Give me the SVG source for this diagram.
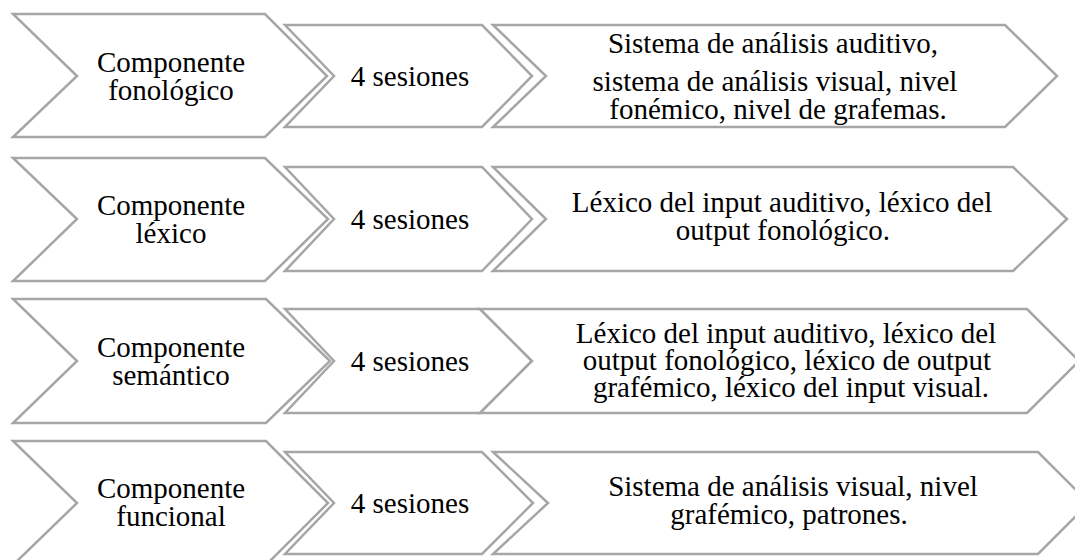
<svg xmlns="http://www.w3.org/2000/svg" width="1075" height="560" viewBox="0 0 1075 560">
<style>
.ch{fill:#ffffff;stroke:#a6a6a6;stroke-width:2.5;stroke-linejoin:miter}
.t{font-family:"Liberation Serif","Times New Roman",serif;font-size:29px;fill:#000;text-anchor:middle}
</style>
<rect width="1075" height="560" fill="#ffffff"/>
<g id="row1">
<g id="r1c1"><polygon class="ch" points="13,14 265,14 327,76 265,137 13,137 77,76"/>
<text class="t" x="171" y="72">Componente</text><text class="t" x="171" y="100">fonológico</text></g>
<g id="r1c2"><polygon class="ch" points="285,25 482,25 532,76 482,127 285,127 334,76"/>
<text class="t" x="410" y="86">4 sesiones</text></g>
<g id="r1c3"><polygon class="ch" points="493,25 1005,25 1057,76 1005,127 493,127 546,76"/>
<text class="t" x="773" y="53">Sistema de análisis auditivo,</text>
<text class="t" x="775" y="91">sistema de análisis visual, nivel</text>
<text class="t" x="778" y="119">fonémico, nivel de grafemas.</text></g>
</g>
<g id="row2">
<g id="r2c1"><polygon class="ch" points="13,158 265,158 328,219 265,281 13,281 77,219"/>
<text class="t" x="171" y="215">Componente</text><text class="t" x="171" y="243">léxico</text></g>
<g id="r2c2"><polygon class="ch" points="285,167 482,167 532,219 482,271 285,271 334,219"/>
<text class="t" x="410" y="229">4 sesiones</text></g>
<g id="r2c3"><polygon class="ch" points="493,167 1013,167 1067,219 1013,271 493,271 546,219"/>
<text class="t" x="782" y="212">Léxico del input auditivo, léxico del</text>
<text class="t" x="783" y="240">output fonológico.</text></g>
</g>
<g id="row3">
<g id="r3c1"><polygon class="ch" points="13,299 266,299 330,361 266,423 13,423 77,361"/>
<text class="t" x="171" y="357">Componente</text><text class="t" x="171" y="385">semántico</text></g>
<g id="r3c2"><polygon class="ch" points="285,309 480,309 532,361 480,413 285,413 334,361"/>
<text class="t" x="410" y="371">4 sesiones</text></g>
<g id="r3c3"><polygon class="ch" points="480,309 1027,309 1079,361 1027,413 480,413 532,361"/>
<text class="t" x="786" y="343">Léxico del input auditivo, léxico del</text>
<text class="t" x="787" y="370">output fonológico, léxico de output</text>
<text class="t" x="791" y="397">grafémico, léxico del input visual.</text></g>
</g>
<g id="row4">
<g id="r4c1"><polygon class="ch" points="13,441 266,441 328,503 266,565 13,565 77,503"/>
<text class="t" x="171" y="498">Componente</text><text class="t" x="171" y="526">funcional</text></g>
<g id="r4c2"><polygon class="ch" points="285,452 482,452 533,503 482,554 285,554 334,503"/>
<text class="t" x="410" y="513">4 sesiones</text></g>
<g id="r4c3"><polygon class="ch" points="493,452 1038,452 1089,503 1038,554 493,554 548,503"/>
<text class="t" x="793" y="496">Sistema de análisis visual, nivel</text>
<text class="t" x="789" y="524">grafémico, patrones.</text></g>
</g>
<g id="connectors"></g>
</svg>
